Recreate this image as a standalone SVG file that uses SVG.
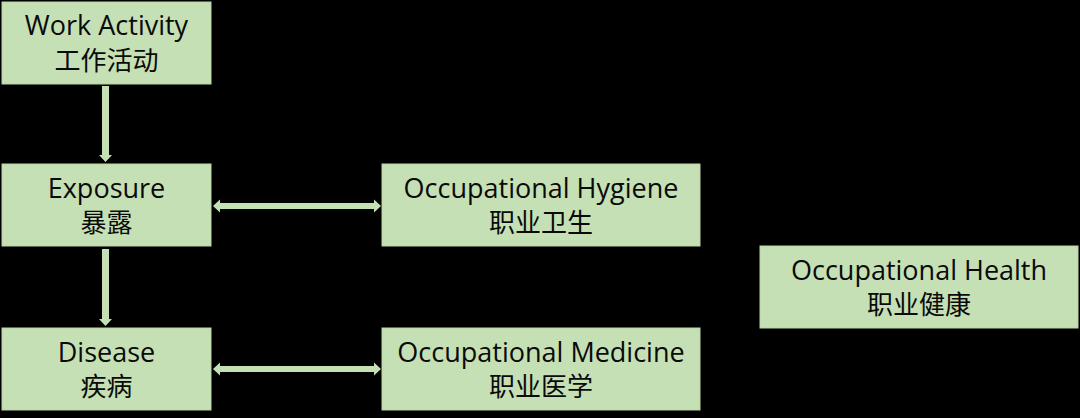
<svg xmlns="http://www.w3.org/2000/svg" width="1080" height="418" viewBox="0 0 1080 418">
<style>
.box{fill:#c5e0b4;stroke:#b9d6a6;stroke-width:1}
.t{font-family:"Open Sans","Noto Sans CJK SC",sans-serif;font-size:27px;fill:#0a0a0a;text-anchor:middle}
.c{font-family:"Noto Sans CJK SC",sans-serif;font-size:26px;fill:#0a0a0a;text-anchor:middle}
.arr{fill:#c5e0b4}
</style>
<rect width="1080" height="418" fill="#000"/>
<g id="connectors">
<polygon class="arr" points="102,86 109,86 109,155 112,155 105.5,162 99,155 102,155"/>
<polygon class="arr" points="102,249 109,249 109,319 112,319 105.5,326 99,319 102,319"/>
<polygon class="arr" points="213,206 220,199.5 220,203 374,203 374,199.5 381,206 374,212.5 374,209 220,209 220,212.5"/>
<polygon class="arr" points="213,369 220,362.5 220,366 374,366 374,362.5 381,369 374,375.5 374,372 220,372 220,375.5"/>
</g>
<g id="work-activity">
<rect class="box" x="2" y="2" width="209" height="82"/>
<text class="t" x="106.5" y="35">Work Activity</text>
<text class="c" x="106.5" y="70">工作活动</text>
</g>
<g id="exposure">
<rect class="box" x="2" y="164" width="209" height="82"/>
<text class="t" x="106.5" y="198">Exposure</text>
<text class="c" x="106.5" y="232">暴露</text>
</g>
<g id="disease">
<rect class="box" x="2" y="328" width="209" height="82"/>
<text class="t" x="106.5" y="362">Disease</text>
<text class="c" x="106.5" y="396">疾病</text>
</g>
<g id="occupational-hygiene">
<rect class="box" x="382" y="164" width="318" height="82"/>
<text class="t" x="541" y="198">Occupational Hygiene</text>
<text class="c" x="541" y="232">职业卫生</text>
</g>
<g id="occupational-medicine">
<rect class="box" x="382" y="328" width="318" height="82"/>
<text class="t" x="541" y="362">Occupational Medicine</text>
<text class="c" x="541" y="396">职业医学</text>
</g>
<g id="occupational-health">
<rect class="box" x="760" y="246" width="318" height="82"/>
<text class="t" x="919" y="280">Occupational Health</text>
<text class="c" x="919" y="314">职业健康</text>
</g>
</svg>
